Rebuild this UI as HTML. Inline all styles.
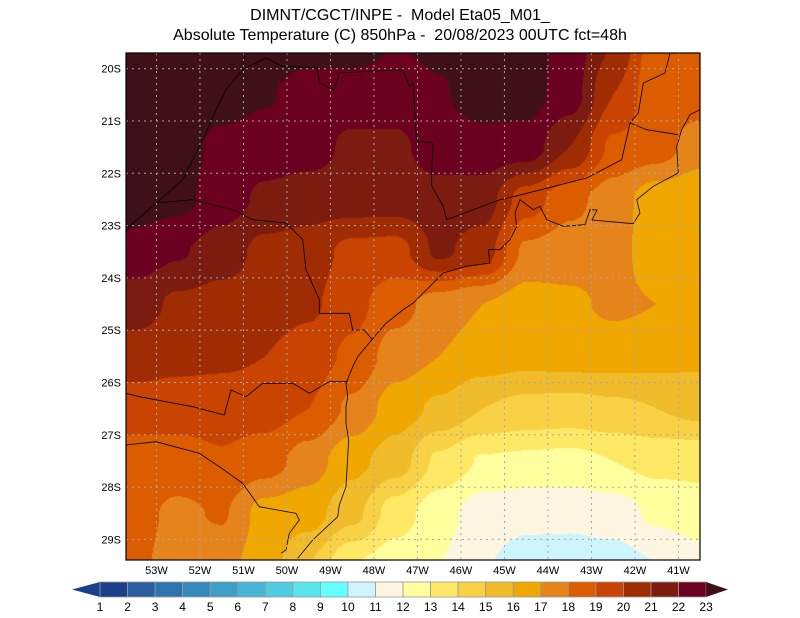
<!DOCTYPE html>
<html><head><meta charset="utf-8"><style>
body{margin:0;background:#fff;width:800px;height:618px;overflow:hidden;position:relative;font-family:"Liberation Sans",sans-serif}
.t{position:absolute;left:0;width:800px;text-align:center;font-size:16px;color:#000;white-space:pre}
</style></head><body>
<div class="t" style="top:7px">DIMNT/CGCT/INPE -  Model Eta05_M01_</div>
<div class="t" style="top:27px">Absolute Temperature (C) 850hPa -  20/08/2023 00UTC fct=48h</div>
<canvas id="map" width="574" height="507" style="position:absolute;left:126px;top:53px"></canvas>
<svg id="ov" width="800" height="618" style="position:absolute;left:0;top:0"></svg>
<script>
const gridLons=[-53.5,-52.5,-51.5,-50.5,-49.5,-48.5,-47.5,-46.5,-45.5,-44.5,-43.5,-42.5,-41.5,-40.5];
const gridLats=[-19.5,-20.5,-21.5,-22.5,-23.5,-24.5,-25.5,-26.5,-27.5,-28.5,-29.5];
const temps=[
[23.5,23.5,23.5,23.5,23.5,23.5,23.0,23.2,23.5,23.5,22.6,21.0,18.3,18.8],
[23.5,23.5,23.5,23.1,22.5,22.5,22.5,22.9,23.5,23.4,22.5,20.0,18.3,18.6],
[23.5,23.5,22.7,22.5,22.4,21.8,21.8,22.5,22.6,22.6,21.0,18.8,18.5,17.4],
[23.5,23.3,22.5,21.8,21.5,21.5,21.5,21.6,21.5,19.5,18.3,17.5,16.4,16.3],
[22.6,22.1,21.5,20.7,20.5,19.7,19.6,21.2,20.5,17.8,17.5,17.4,16.4,16.2],
[21.5,20.8,20.6,20.5,20.2,19.3,18.4,17.5,17.0,16.5,16.8,17.2,17.0,16.4],
[20.5,20.3,20.2,20.0,19.5,18.8,17.5,17.0,16.5,16.3,16.4,16.4,16.3,16.2],
[19.5,19.4,19.4,19.4,19.0,17.8,16.5,15.8,15.0,14.7,14.6,14.8,15.0,15.3],
[18.5,18.6,18.9,18.5,17.5,16.3,15.5,13.8,12.9,12.8,12.7,13.0,13.3,13.3],
[18.3,17.8,18.1,16.6,16.4,15.3,13.5,12.4,11.5,11.3,11.3,11.5,12.2,12.5],
[18.2,17.6,17.3,16.5,15.0,13.0,12.4,12.0,11.1,10.5,10.4,10.5,10.98,11.6]];
const levels=[1,2,3,4,5,6,7,8,9,10,11,12,13,14,15,16,17,18,19,20,21,22,23];
const colors=["#1c3f8c","#1c3f8c","#2a5ea0","#2e74b0","#3488bc","#3ea0c8","#48b4d8","#50cce0","#5ae4ec","#64ffff","#cef4fc","#fff6e2","#ffff9e","#ffe866","#f8d244","#f0bc2c","#f0a800","#e4841a","#dc5c00","#c84400","#a02c04","#7c1c10","#6c0020","#401018"];
const lonTicks=[-53,-52,-51,-50,-49,-48,-47,-46,-45,-44,-43,-42,-41];
const latTicks=[-20,-21,-22,-23,-24,-25,-26,-27,-28,-29];

const X0=126,Y0=53,W=574,H=507,LON0=-53.70,LAT0=-19.70,PXD=43.5,PYD=52.3;
const xs=lon=>X0+(lon-LON0)*PXD, ys=lat=>Y0+(LAT0-lat)*PYD;
function hex(c){return [parseInt(c.slice(1,3),16),parseInt(c.slice(3,5),16),parseInt(c.slice(5,7),16)];}
const rgb=colors.map(hex);
function colIdx(v){let i=0;while(i<levels.length&&v>=levels[i])i++;return i;}
function val(lon,lat){
  let fx=(lon-gridLons[0])/(gridLons[1]-gridLons[0]);
  let fy=(lat-gridLats[0])/(gridLats[1]-gridLats[0]);
  fx=Math.max(0,Math.min(gridLons.length-1.0001,fx));
  fy=Math.max(0,Math.min(gridLats.length-1.0001,fy));
  const i=Math.floor(fx),j=Math.floor(fy),a=fx-i,b=fy-j;
  const sx=t=>t*t*(3-2*t);const A=sx(a),B=sx(b);
  return (temps[j][i]*(1-A)+temps[j][i+1]*A)*(1-B)+(temps[j+1][i]*(1-A)+temps[j+1][i+1]*A)*B;
}
const cv=document.getElementById('map'),ctx=cv.getContext('2d');
const img=ctx.createImageData(W,H);
for(let y=0;y<H;y++){for(let x=0;x<W;x++){
  const lon=LON0+(x+0.5)/PXD,lat=LAT0-(y+0.5)/PYD;
  const c=rgb[colIdx(val(lon,lat))];const k=(y*W+x)*4;
  img.data[k]=c[0];img.data[k+1]=c[1];img.data[k+2]=c[2];img.data[k+3]=255;}}
ctx.putImageData(img,0,0);

const NS='http://www.w3.org/2000/svg',ov=document.getElementById('ov');
function mk(tag,attrs,txt){const e=document.createElementNS(NS,tag);for(const k in attrs)e.setAttribute(k,attrs[k]);if(txt!==undefined)e.textContent=txt;ov.appendChild(e);return e;}
const borders=[
[[297.7,558.3],[312.7,540],[337.7,516.7],[339.3,505],[346,486.7],[347.7,456.7],[348.7,440],[346,423.3],[346,406.7],[347.7,396.7],[346,383.3],[352.7,366.7],[357.7,356.7],[366,346.7],[374.3,336.7],[386,323.3],[402.7,310],[413.3,303],[443.3,273],[466.7,266.3],[490,263],[488.3,249.7],[500,249.7],[510,239.7],[516.7,226.3],[515,213],[520,199.7],[533.3,209.7],[540,206.3],[546.7,219.7],[563.3,226.3],[585,224.7],[590,209.7],[597,210],[592,220],[633.3,223.7],[640,213],[636.7,199.7],[653.3,186.3],[678.3,173],[676.7,146.3],[681.7,129.7],[690,114.7],[700,109.7]],
[[515,196.3],[586.7,178],[621.7,159.7],[630,123],[638.3,113],[643.3,83],[665,73],[670,53]],
[[630,123],[646.7,129.7],[678.3,134.7]],
[[242.7,69.7],[266,58],[282.7,66.3],[317.7,68],[319.3,83],[334.3,89.7],[339.3,73],[402.7,69.7],[409.3,86.3],[413.3,83],[415,119.7],[416.7,141.3],[433.3,143],[431.7,169.7],[431.7,186.3],[443.3,206.3],[446.7,219.7],[473.3,209.7],[500,199.7],[515,196.3]],
[[245,53],[242.7,69.7],[226,89.7],[216,109.7],[206,133],[196,153],[182.7,179.7],[152.7,206.3],[129.3,226.3],[126,233]],
[[156,203],[192.7,199.7],[232.7,209.7],[252.7,219.7],[286,223],[302.7,239.7],[306,269.7],[319.3,299.7],[319.3,313.3],[349.3,313.3],[352.7,330],[364.3,330],[372.7,340]],
[[126,393.3],[139.3,396.7],[192.7,406.7],[224.3,415],[231,390],[246,396.7],[262.7,383.3],[292.7,383.3],[309.3,393.3],[329.3,381.7],[347.7,381.7]],
[[126,445],[156,441.7],[199.3,453.3],[219.3,466.7],[242.7,483.3],[259.3,506.7],[296,513.3],[299.3,520],[289.3,533.3],[286,550],[281,553.3]]];
borders.forEach(b=>{
  const p=mk('polyline',{points:b.map(q=>q[0]+','+q[1]).join(' '),fill:'none',stroke:'#000','stroke-width':'0.8'});
  
  
});
lonTicks.forEach(l=>{const x=xs(l);
  const g=mk('line',{x1:x,x2:x,y1:Y0,y2:Y0+H,stroke:'#a8a8a8','stroke-dasharray':'2,4','stroke-width':'1'});
  
  const t=mk('text',{x:x,y:574,'font-size':'11','text-anchor':'middle','font-family':'Liberation Sans'},Math.abs(l)+'W');
  });
latTicks.forEach(l=>{const y=ys(l);
  const g=mk('line',{x1:X0,x2:X0+W,y1:y,y2:y,stroke:'#a8a8a8','stroke-dasharray':'2,4','stroke-width':'1'});
  
  const t=mk('text',{x:121,y:y+4,'font-size':'11','text-anchor':'end','font-family':'Liberation Sans'},Math.abs(l)+'S');
  });
const fr=mk('rect',{x:X0,y:Y0,width:W,height:H,fill:'none',stroke:'#000','stroke-width':'1.2'});

const CB0=100,CBW=27.55,CBY=582,CBH=15;
const lt=mk('polygon',{points:`72,${CBY+CBH/2} ${CB0},${CBY} ${CB0},${CBY+CBH}`,fill:colors[0]});

for(let i=0;i<levels.length-1;i++){
  const r=mk('rect',{x:CB0+i*CBW,y:CBY,width:CBW,height:CBH,fill:colors[i+1],stroke:'#999','stroke-width':'0.8'});
  }
const rt=mk('polygon',{points:`${CB0+22*CBW},${CBY} ${CB0+22*CBW},${CBY+CBH} 728,${CBY+CBH/2}`,fill:colors[23]});

levels.forEach((l,i)=>{const t=mk('text',{x:CB0+i*CBW,y:611,'font-size':'12','text-anchor':'middle','font-family':'Liberation Sans'},l);
  });
</script>
</body></html>
